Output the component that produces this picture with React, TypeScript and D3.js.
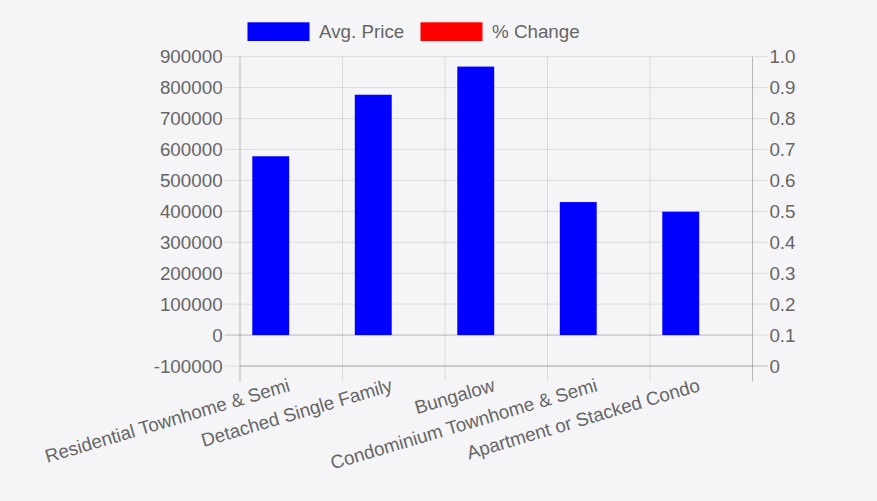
import { useRef, useEffect } from 'react';
import * as d3 from 'd3';

const categories = [
  'Residential Townhome & Semi',
  'Detached Single Family',
  'Bungalow',
  'Condominium Townhome & Semi',
  'Apartment or Stacked Condo',
];
const avgPrice = [578000, 777000, 868000, 430000, 399000];
const pctChange = [0, 0, 0, 0, 0];
const seriesNames = ['Avg. Price', '% Change'];
const seriesColors = ['#0000ff', '#ff0000'];
const leftTicks = [-100000, 0, 100000, 200000, 300000, 400000, 500000, 600000, 700000, 800000, 900000];
const rightTicks = [0, 0.1, 0.2, 0.3, 0.4, 0.5, 0.6, 0.7, 0.8, 0.9, 1.0];

const W = 877, H = 501;
const FONT = '"Liberation Sans", Arial, sans-serif';
const TEXT = '#666';
const GRID = 'rgba(0,0,0,0.1)';
const AXIS = 'rgba(0,0,0,0.25)';

export default function App() {
  const svgRef = useRef<SVGSVGElement>(null);

  useEffect(() => {
    const svg = d3.select(svgRef.current);
    svg.selectAll('*').remove();

    const left = 240, right = 752.5, top = 56.7, bottom = 366;
    const tick = 15.4;
    const fs = 18.8;

    const yL = d3.scaleLinear().domain([-100000, 900000]).range([bottom, top]);
    const yR = d3.scaleLinear().domain([0, 1]).range([bottom, top]);
    const x = d3.scaleBand().domain(categories).range([left, right]);
    const xs = d3.scaleBand().domain(seriesNames)
      .range([x.bandwidth() * 0.1, x.bandwidth() * 0.9])
      .paddingInner(0.1).paddingOuter(0.05);

    const g = svg.append('g');

    // horizontal grid (left axis ticks)
    g.selectAll('line.hgrid')
      .data(leftTicks)
      .join('line')
      .attr('class', 'hgrid')
      .attr('x1', left - tick).attr('x2', right)
      .attr('y1', d => yL(d)).attr('y2', d => yL(d))
      .attr('stroke', d => d === 0 ? AXIS : GRID)
      .attr('stroke-width', 1);

    // right axis tick marks
    g.selectAll('line.rtick')
      .data(rightTicks)
      .join('line')
      .attr('class', 'rtick')
      .attr('x1', right).attr('x2', right + tick)
      .attr('y1', d => yR(d)).attr('y2', d => yR(d))
      .attr('stroke', d => d === 0 ? AXIS : GRID);

    // vertical grid at category boundaries
    const bounds = categories.map(c => x(c) as number).concat([right]);
    g.selectAll('line.vgrid')
      .data(bounds)
      .join('line')
      .attr('class', 'vgrid')
      .attr('x1', d => d).attr('x2', d => d)
      .attr('y1', top).attr('y2', bottom + tick)
      .attr('stroke', (_, i) => i === 0 || i === bounds.length - 1 ? AXIS : GRID);

    // bottom line
    g.append('line')
      .attr('x1', left).attr('x2', right)
      .attr('y1', bottom).attr('y2', bottom)
      .attr('stroke', AXIS);

    // bars
    const cat = g.selectAll('g.cat')
      .data(categories)
      .join('g')
      .attr('class', 'cat')
      .attr('transform', d => `translate(${x(d)},0)`);

    cat.append('rect')
      .attr('x', xs('Avg. Price') as number)
      .attr('width', xs.bandwidth())
      .attr('y', (_, i) => yL(avgPrice[i]))
      .attr('height', (_, i) => yL(0) - yL(avgPrice[i]))
      .attr('fill', seriesColors[0]);

    cat.append('rect')
      .attr('x', xs('% Change') as number)
      .attr('width', xs.bandwidth())
      .attr('y', (_, i) => yR(pctChange[i]))
      .attr('height', (_, i) => yR(0) - yR(pctChange[i]))
      .attr('fill', seriesColors[1]);

    // left tick labels
    g.selectAll('text.ltick')
      .data(leftTicks)
      .join('text')
      .attr('class', 'ltick')
      .attr('x', left - tick - 2)
      .attr('y', d => yL(d))
      .attr('dy', '0.35em')
      .attr('text-anchor', 'end')
      .attr('fill', TEXT)
      .style('font', `${fs}px ${FONT}`)
      .text(d => String(d));

    // right tick labels
    g.selectAll('text.rtickl')
      .data(rightTicks)
      .join('text')
      .attr('class', 'rtickl')
      .attr('x', right + tick + 1.5)
      .attr('y', d => yR(d))
      .attr('dy', '0.35em')
      .attr('fill', TEXT)
      .style('font', `${fs}px ${FONT}`)
      .text(d => d === 0 ? '0' : d.toFixed(1));

    // category labels, rotated
    g.selectAll('text.xl')
      .data(categories)
      .join('text')
      .attr('class', 'xl')
      .attr('transform', d => `translate(${(x(d) as number) + x.bandwidth() / 2 - 2},${bottom + tick + 3}) rotate(-16.5)`)
      .attr('dy', '0.35em')
      .attr('text-anchor', 'end')
      .attr('fill', TEXT)
      .style('font', `${fs}px ${FONT}`)
      .text(d => d);

    // legend
    const legendX = [247.5, 420.5];
    const lg = svg.append('g').selectAll('g')
      .data(seriesNames)
      .join('g')
      .attr('transform', (_, i) => `translate(${legendX[i]},22.3)`);
    lg.append('rect')
      .attr('width', 62).attr('height', 18.7)
      .attr('fill', (_, i) => seriesColors[i]);
    lg.append('text')
      .attr('x', 71.5).attr('y', 9.4)
      .attr('dy', '0.35em')
      .attr('fill', TEXT)
      .style('font', `${fs}px ${FONT}`)
      .text(d => d);
  }, []);

  return (
    <div style={{ position: 'fixed', inset: 0, background: '#f5f5f7' }}>
      <svg ref={svgRef} width={W} height={H} style={{ display: 'block' }} />
    </div>
  );
}
